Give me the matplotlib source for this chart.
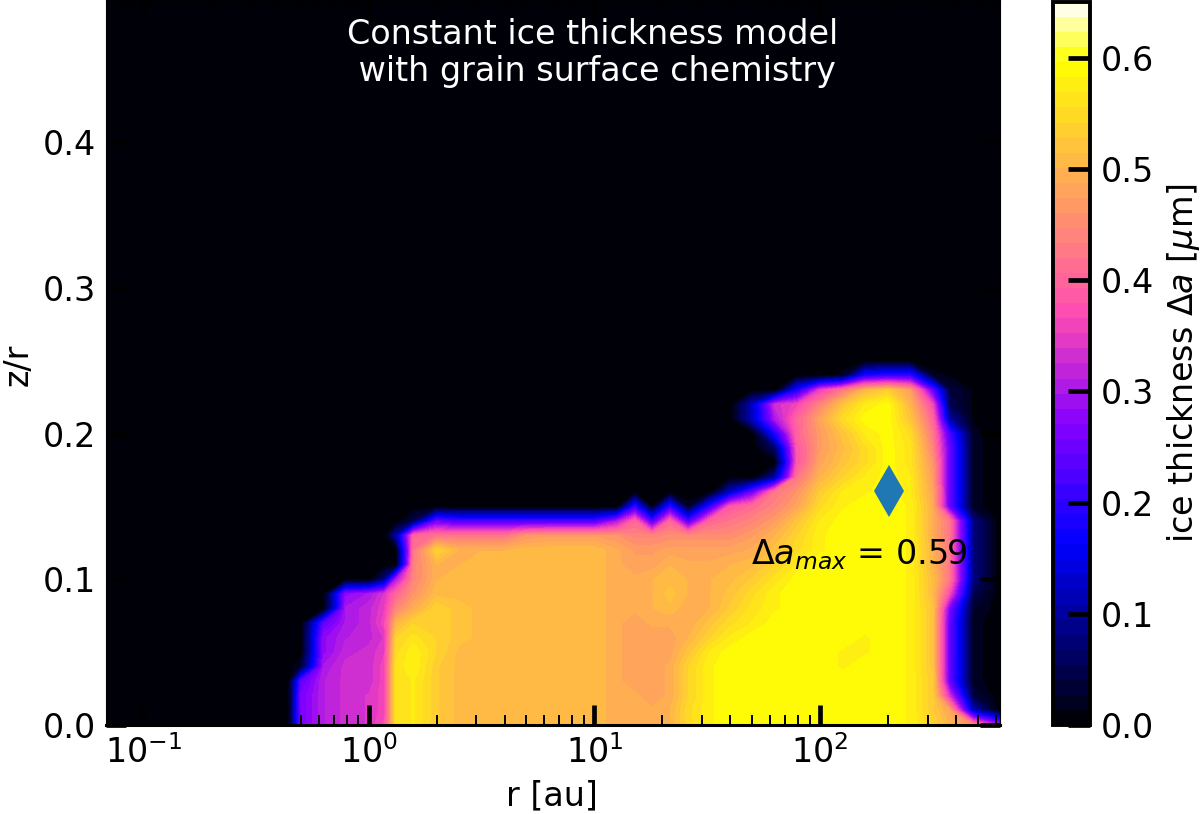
import numpy as np
import matplotlib
matplotlib.use("Agg")
import matplotlib.pyplot as plt
from matplotlib.ticker import LogLocator, NullFormatter

r_au = [0.068, 0.44, 0.50, 0.63, 0.79, 1.0, 1.17, 1.32, 1.58, 2.0, 2.5, 3.16, 3.98, 5.0, 6.3, 7.9, 10, 12.6,
        15.1, 18, 21.6, 26, 32.4, 39.8, 50, 63, 79, 100, 126, 158, 200, 251, 316, 376, 477, 628]
z_over_r = [0.00, 0.01, 0.02, 0.03, 0.04, 0.05, 0.06, 0.07, 0.08, 0.09, 0.10, 0.11, 0.12,
            0.13, 0.14, 0.15, 0.16, 0.17, 0.18, 0.19, 0.20, 0.21, 0.22, 0.23, 0.24, 0.25, 0.50]

# ice thickness in units of 0.01 micron, one list per z/r level
z00 = [0,26,31,33,34,37,56,57,53,51,51,51,51,51,51,51,49,50,50,50,55,58,59,59,59,59,59,59,59,59,58,54,50,45,30]
z01 = [0,26,31,33,34,36,56,57,53,51,51,51,51,51,51,51,49,49,49,50,55,58,59,59,59,59,59,59,59,59,58,53,48,12,0]
z02 = [0,26,31,33,34,36,56,57,53,51,51,51,51,51,51,51,49,49,48,49,54,58,59,59,59,59,59,59,59,59,58,53,33,4,0]
z03 = [0,24,31,33,33,36,56,57,53,51,51,51,51,51,51,51,49,48,48,49,54,58,59,59,59,59,59,59,59,59,58,53,24,2,0]
z04 = [0,3,30,33,33,36,56,58,53,51,51,51,51,51,51,51,49,48,48,49,54,58,59,59,59,59,59,58,59,59,58,52,24,2,0]
z05 = [0,0,28,32,33,35,55,58,54,51,51,51,51,51,51,51,49,48,48,48,52,57,59,59,59,59,59,58,58,59,58,52,24,2,0]
z06 = [0,0,28,31,32,34,54,56,54,52,51,51,51,51,51,51,49,48,48,48,50,54,57,59,59,59,59,59,58,59,58,52,24,2,0]
z07 = [0,0,24,30,32,36,50,54,54,52,51,51,51,51,51,51,49,48,49,49,49,52,55,57,59,59,59,59,59,59,58,52,24,2,0]
z08 = [0,0,0,30,32,35,44,49,54,52,51,51,51,51,51,51,49,49,50,51,49,50,53,56,58,59,59,59,59,59,58,52,26,3,0]
z09 = [0,0,0,28,30,34,40,46,51,51,51,51,51,51,51,51,49,50,50,52,50,50,52,55,58,59,59,59,59,59,58,51,36,5,0]
z10 = [0,0,0,0,0,8,30,44,50,51,51,51,51,51,51,51,49,49,50,51,50,50,51,53,56,59,59,59,59,59,58,51,42,8,0]
z11 = [0,0,0,0,0,0,0,44,50,50,51,51,51,51,51,51,49,48,48,50,49,49,50,51,54,57,59,59,59,59,58,50,42,8,0]
z12 = [0,0,0,0,0,0,0,42,54,50,50,50,51,51,51,51,49,47,47,48,48,48,48,49,52,55,58,59,59,59,58,50,42,8,0]
z13 = [0,0,0,0,0,0,10,40,42,42,42,42,46,47,47,47,46,44,44,45,45,45,45,47,50,54,58,59,59,59,58,49,42,8,0]
z14 = [0,0,0,0,0,0,0,5,25,22,22,22,22,22,22,22,30,40,22,40,22,40,42,44,47,52,57,59,59,59,58,49,42,8,0]
z15 = [0,0,0,0,0,0,0,0,0,0,0,0,0,0,0,0,0,20,1,20,2,20,38,41,44,48,55,58,59,59,58,49,24,2,0]
z16 = [0,0,0,0,0,0,0,0,0,0,0,0,0,0,0,0,0,0,0,0,0,0,12,25,42,46,53,57,58,59,57,48,24,2,0]
z17 = [0,0,0,0,0,0,0,0,0,0,0,0,0,0,0,0,0,0,0,0,0,0,0,0,10,42,50,54,57,59,57,47,24,2,0]
z18 = [0,0,0,0,0,0,0,0,0,0,0,0,0,0,0,0,0,0,0,0,0,0,0,0,0,38,48,52,55,59,56,46,24,2,0]
z19 = [0,0,0,0,0,0,0,0,0,0,0,0,0,0,0,0,0,0,0,0,0,0,0,0,6,38,47,51,55,59,56,44,24,2,0]
z20 = [0,0,0,0,0,0,0,0,0,0,0,0,0,0,0,0,0,0,0,0,0,0,0,0,18,40,47,52,57,59,55,42,22,2,0]
z21 = [0,0,0,0,0,0,0,0,0,0,0,0,0,0,0,0,0,0,0,0,0,0,0,12,30,40,48,55,59,59,52,40,10,1,0]
z22 = [0,0,0,0,0,0,0,0,0,0,0,0,0,0,0,0,0,0,0,0,0,0,0,12,33,36,44,52,57,59,50,36,5,1,0]
z23 = [0,0,0,0,0,0,0,0,0,0,0,0,0,0,0,0,0,0,0,0,0,0,0,0,0,18,35,42,50,53,47,24,4,1,0]
z24 = [0,0,0,0,0,0,0,0,0,0,0,0,0,0,0,0,0,0,0,0,0,0,0,0,0,0,0,2,18,20,20,2,1,0,0]
z25 = [0] * 35

peak_r = [202]
peak_z = [0.1606]
cbar_ticks = [0.0, 0.1, 0.2, 0.3, 0.4, 0.5, 0.6]
y_ticks = [0.0, 0.1, 0.2, 0.3, 0.4]

rows = [z00, z01, z02, z03, z04, z05, z06, z07, z08, z09, z10, z11, z12,
        z13, z14, z15, z16, z17, z18, z19, z20, z21, z22, z23, z24, z25, z25]
field = np.array(rows, dtype=float) / 100.0
field = np.hstack([np.zeros((field.shape[0], 1)), field])

W, H = 1200, 814
fig = plt.figure(figsize=(W / 100, H / 100), dpi=100)
plt.rcParams["mathtext.fontset"] = "dejavusans"
FS = 24

ax = fig.add_axes([106 / W, 1 - 725 / H, 894 / W, 725 / H])
levels = np.linspace(0, 0.65, 49)
cs = ax.contourf(r_au, z_over_r, field, levels=levels, cmap="gnuplot2", vmin=0, vmax=0.65)
ax.set_xscale("log")
ax.set_xlim(0.0685, 628)
ax.set_ylim(0, 0.4976)
ax.set_yticks(y_ticks)
ax.xaxis.set_major_locator(LogLocator(base=10, numticks=6))
ax.xaxis.set_minor_locator(LogLocator(base=10, subs=np.arange(2, 10), numticks=12))
ax.xaxis.set_minor_formatter(NullFormatter())
ax.tick_params(axis="both", which="major", direction="in", length=14.5, width=3.4,
               labelsize=FS, top=True, right=True, pad=7, color="black")
ax.tick_params(axis="x", which="minor", direction="in", length=7.5, width=1.4, top=True)
ax.set_xlabel("r [au]", fontsize=FS)
ax.xaxis.set_label_coords(552 / W, 1 - 812 / H, transform=fig.transFigure)
ax.xaxis.label.set_verticalalignment("bottom")
ax.set_ylabel("z/r", fontsize=FS)
ax.yaxis.set_label_coords(2 / W, 1 - 365 / H, transform=fig.transFigure)
ax.yaxis.label.set_verticalalignment("top")
for side, spine in ax.spines.items():
    spine.set_linewidth(0.8 if side != "bottom" else 2.2)

ax.plot(peak_r, peak_z, marker="d", markersize=26, color="tab:blue", linestyle="none", markeredgewidth=0)
ax.text(0.544, 0.9745, "Constant ice thickness model\n with grain surface chemistry", transform=ax.transAxes,
        color="white", fontsize=FS, ha="center", va="top", linespacing=1.14)
ax.text(149.5, 0.1168, r"$\Delta a_{max}$ = 0.59", fontsize=FS, color="black", ha="center", va="center")

cax = fig.add_axes([1053 / W, 1 - 725 / H, 37 / W, 723 / H])
cb = fig.colorbar(cs, cax=cax, ticks=cbar_ticks)
cb.ax.tick_params(direction="in", length=15.5, width=3.4, labelsize=FS, pad=8, color="black")
cb.ax.minorticks_off()
cb.outline.set_linewidth(2.8)
cb.set_label(r"ice thickness $\Delta a$ [$\mu$m]", fontsize=FS)
cb.ax.yaxis.set_label_coords(1183 / W, 1 - 363 / H, transform=fig.transFigure)
cb.ax.yaxis.label.set_verticalalignment("center")

fig.savefig("out.png", dpi=100)
